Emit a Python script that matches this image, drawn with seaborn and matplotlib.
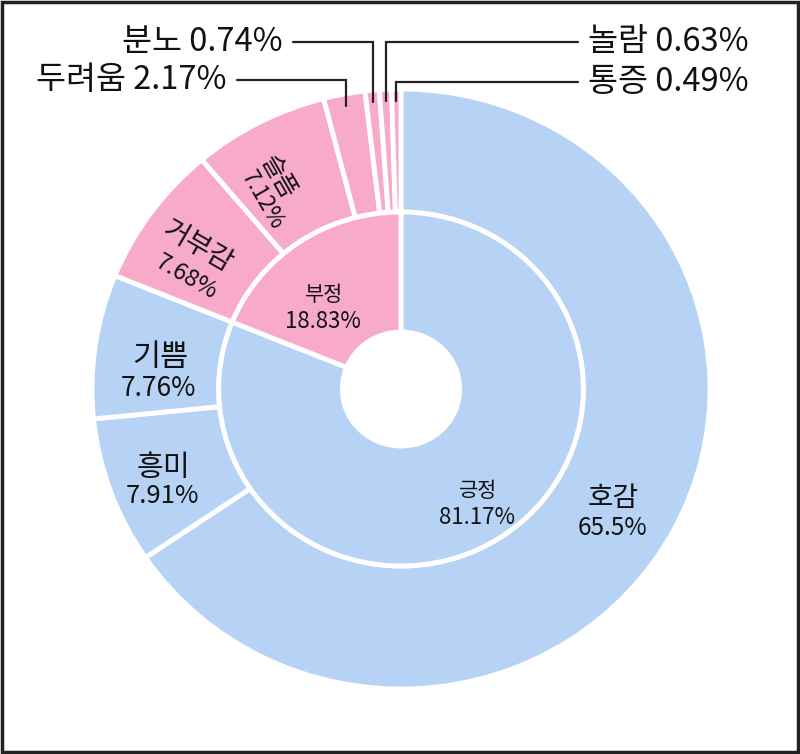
import numpy as np
import matplotlib
matplotlib.use("Agg")
import matplotlib.pyplot as plt
import seaborn as sns

## data
outer_labels = ["호감", "흥미", "기쁨", "거부감", "슬픔", "두려움", "분노", "놀람", "통증"]
outer_values = [65.5, 7.91, 7.76, 7.68, 7.12, 2.17, 0.74, 0.63, 0.49]
inner_labels = ["긍정", "부정"]
inner_values = [81.17, 18.83]
outer_groups = [0, 0, 0, 1, 1, 1, 1, 1, 1]

sns.set_theme(style="white")
plt.rcParams['font.family'] = ['Noto Sans CJK KR', 'DejaVu Sans']

blue = "#b6d3f6"
pink = "#f7aac9"
group_colors = [blue, pink]
outer_colors = [group_colors[g] for g in outer_groups]

fig = plt.figure(figsize=(8, 7.54), dpi=100)
ax = fig.add_axes([0, 0, 1, 1])

# pixel -> data helpers (center 401,389; radius 308 x 300 px)
CX, CY, RX, RY = 401, 389, 309, 300
def px(x, y):
    return (x - CX) / RX, (CY - y) / RY

wp = dict(edgecolor="white", linewidth=3.5)
outer_wedges, _ = ax.pie(outer_values, radius=1.0, colors=outer_colors,
                         startangle=90, counterclock=False,
                         wedgeprops=dict(width=0.41, **wp))
inner_wedges, _ = ax.pie(inner_values, radius=0.59, colors=group_colors,
                         startangle=90, counterclock=False,
                         wedgeprops=dict(width=0.40, **wp))

ax.set_aspect("auto")
ax.set_xlim(-CX / RX, (800 - CX) / RX)
ax.set_ylim(-(754 - CY) / RY, CY / RY)
ax.axis("off")

def fmt(v):
    return f"{v:g}%"

## labels inside the wedges
inside = {
    "호감": ((613, 498), (613, 528), 20, 17.5, 0),
    "흥미": ((163, 468), (163, 496), 21, 18.5, 0),
    "기쁨": ((160, 357), (158, 388), 22, 19, 0),
    "거부감": ((198, 246), (186, 277), 20, 17, -30),
    "슬픔": ((278, 177), (262, 200), 18, 16, -60),
}
for name, val in zip(outer_labels, outer_values):
    if name not in inside:
        continue
    (nx, ny), (vx, vy), fs1, fs2, rot = inside[name]
    ax.text(*px(nx, ny), name, ha="center", va="center", fontsize=fs1,
            fontweight=500, rotation=rot, color="#111111")
    ax.text(*px(vx, vy), fmt(val), ha="center", va="center", fontsize=fs2,
            rotation=rot, color="#111111")

inner_pos = {"긍정": ((478, 491), (477, 518)), "부정": ((324, 295), (323, 322))}
for name, val in zip(inner_labels, inner_values):
    (nx, ny), (vx, vy) = inner_pos[name]
    ax.text(*px(nx, ny), name, ha="center", va="center", fontsize=15,
            fontweight=500, color="#111111")
    ax.text(*px(vx, vy), fmt(val), ha="center", va="center", fontsize=16, color="#111111")

## small slices with leader lines
leaders = {
    "두려움": (227, 80, "right"),
    "분노": (283, 42, "right"),
    "놀람": (588, 42, "left"),
    "통증": (588, 82, "left"),
}
cum = np.cumsum([0] + outer_values)
total = sum(outer_values)
for i, name in enumerate(outer_labels):
    if name not in leaders:
        continue
    tx, ty, ha = leaders[name]
    mid = (cum[i] + cum[i + 1]) / 2 / total
    ang = np.deg2rad(90 - 360 * mid)
    ex, ey = 0.96 * np.cos(ang), 0.96 * np.sin(ang)
    _, ly = px(0, ty)
    lx0, _ = px(tx + 10 if ha == "right" else tx - 10, ty)
    ax.plot([lx0, ex, ex], [ly, ly, ey], color="#222222", lw=1.6,
            solid_joinstyle="miter")
    ax.text(*px(tx, ty), f"{name} {fmt(outer_values[i])}", ha=ha, va="center",
            fontsize=23.5, fontweight=500, color="#111111")

# frame around the picture
fig.patches.append(plt.Rectangle((0.002, 0.003), 0.996, 0.994, transform=fig.transFigure,
                                 fill=False, edgecolor="#222222", linewidth=2.5))

fig.savefig("out.png", dpi=100)
